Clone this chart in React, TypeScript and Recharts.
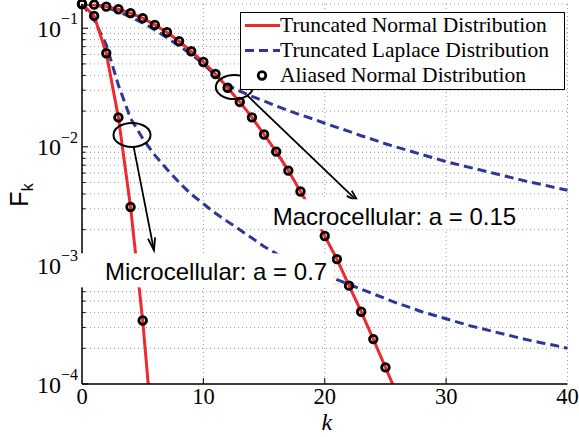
import React from 'react';
import {
  ComposedChart,
  Line,
  Scatter,
  XAxis,
  YAxis,
  CartesianGrid,
  ReferenceLine,
  ReferenceDot,
  Legend,
} from 'recharts';

// ---------- data ----------
const kValues = [
  0, 1, 2, 3, 4, 5, 6, 7, 8, 9, 10, 11, 12, 13, 14, 15, 16, 17, 18, 19, 20,
  21, 22, 23, 24, 25, 26, 27, 28, 29, 30, 31, 32, 33, 34, 35, 36, 37, 38, 39, 40,
];

// Macrocellular a = 0.15, truncated normal (k = 0..26)
const macroNormal = [
  0.160, 0.158, 0.152, 0.1445, 0.134, 0.1215, 0.1066, 0.0925, 0.0776, 0.0639,
  0.0519, 0.0411, 0.0315, 0.0239, 0.0177, 0.0127, 0.0091, 0.0063, 0.0042, 0.0028,
  0.00177, 0.00113, 0.000675, 0.000407, 0.000239, 0.000138, 0.00008,
];
// Microcellular a = 0.7, truncated normal (k = 0..6)
const microNormal = [0.160, 0.127, 0.0615, 0.0177, 0.00311, 0.000343, 0.000023];

// Truncated Laplace (k = 0..40)
const macroLaplace = [
  0.160, 0.158, 0.150, 0.138, 0.124, 0.111, 0.0966, 0.0832, 0.0708, 0.0603,
  0.0501, 0.0398, 0.0331, 0.0295, 0.0266, 0.0243, 0.0221, 0.0202, 0.0186, 0.0172,
  0.0158, 0.0146, 0.0135, 0.0124, 0.0115, 0.0106, 0.00989, 0.00923, 0.00861, 0.00804,
  0.0075, 0.00708, 0.00668, 0.00631, 0.00596, 0.00562, 0.00531, 0.00501, 0.00479, 0.00452,
  0.00431,
];
const microLaplace = [
  0.160, 0.1175, 0.0724, 0.0331, 0.01738, 0.01175, 0.00851, 0.00646, 0.00501, 0.00398,
  0.00331, 0.00275, 0.00234, 0.002, 0.0017, 0.001445, 0.001259, 0.001122, 0.001, 0.000912,
  0.000832, 0.000759, 0.000692, 0.000631, 0.000575, 0.000525, 0.000479, 0.000442, 0.000407, 0.00038,
  0.000355, 0.000331, 0.000309, 0.000292, 0.000275, 0.00026, 0.000245, 0.000232, 0.000221, 0.000211,
  0.0002,
];

// Aliased normal distribution (markers)
const macroAliasedK = [0, 1, 2, 3, 4, 5, 6, 7, 8, 9, 10, 11, 12, 13, 14, 15, 16, 17, 18, 19, 20, 21, 22, 23, 24, 25];
const macroAliased = [
  0.160, 0.158, 0.152, 0.1445, 0.134, 0.1215, 0.1066, 0.0925, 0.0776, 0.0639,
  0.0519, 0.0411, 0.0315, 0.0239, 0.0177, 0.0127, 0.0091, 0.0063, 0.0042, 0.0028,
  0.00177, 0.00113, 0.000675, 0.000407, 0.000239, 0.000138,
];
const microAliasedK = [0, 1, 2, 3, 4, 5];
const microAliased = [0.160, 0.127, 0.0615, 0.0177, 0.00311, 0.000343];

// Axis ticks
const xTicks = [0, 10, 20, 30, 40];
const topTicks = [10, 20, 30];
const yTicks = [
  0.0001, 0.0002, 0.0003, 0.0004, 0.0005, 0.0006, 0.0007, 0.0008, 0.0009,
  0.001, 0.002, 0.003, 0.004, 0.005, 0.006, 0.007, 0.008, 0.009,
  0.01, 0.02, 0.03, 0.04, 0.05, 0.06, 0.07, 0.08, 0.09,
  0.1,
];
const yDomain = [0.0001, 0.16];

// Legend labels
const legendLabels = [
  'Truncated Normal Distribution',
  'Truncated Laplace Distribution',
  'Aliased Normal Distribution',
];

// Annotations (data coordinates)
const microEllipse = { k: 4.12, v: 0.0126 };
const macroEllipse = { k: 12.55, v: 0.0319 };
const microArrow = [{ x: 4.26, y: 0.00994 }, { x: 5.93, y: 0.00134 }];
const macroArrow = [{ x: 13.57, y: 0.0274 }, { x: 22.76, y: 0.00343 }];
const microText = { k: 1.9, v: 0.000748, label: 'Microcellular: a = 0.7' };
const macroText = { k: 15.71, v: 0.00218, label: 'Macrocellular: a = 0.15' };

// ---------- table ----------
const rows = kValues.map((k, i) => ({
  k,
  macroNormal: i < macroNormal.length ? macroNormal[i] : null,
  microNormal: i < microNormal.length ? microNormal[i] : null,
  macroLaplace: macroLaplace[i],
  microLaplace: microLaplace[i],
}));
const macroAliasedData = macroAliasedK.map((k, i) => ({ k, v: macroAliased[i] }));
const microAliasedData = microAliasedK.map((k, i) => ({ k, v: microAliased[i] }));

// ---------- styles ----------
const RED = '#ee2a2e';
const BLUE = '#2e3796';
const GRID = '#9a9a9a';
const SERIF = '"Liberation Serif", "Times New Roman", serif';
const SANS = '"Liberation Sans", Arial, sans-serif';

const isDecade = (v: number) => {
  const l = Math.log10(v);
  return Math.abs(l - Math.round(l)) < 1e-6;
};

const LeftTick = (props: any) => {
  const { x, y, payload } = props;
  const v = payload.value;
  const major = isDecade(v);
  const e = Math.round(Math.log10(v));
  return (
    <g>
      <line x1={x} y1={y} x2={x + (major ? 6 : 3.5)} y2={y} stroke="#000" strokeWidth={1} />
      {major && (
        <text x={x - 4} y={y + 8.5} textAnchor="end" fontFamily={SERIF} fontSize={24} fill="#000">
          10
          <tspan dy={-12.5} fontSize={16}>{`\u2212${-e}`}</tspan>
        </text>
      )}
    </g>
  );
};

const RightTick = (props: any) => {
  const { x, y, payload } = props;
  const major = isDecade(payload.value);
  return <line x1={x} y1={y} x2={x - (major ? 6 : 3.5)} y2={y} stroke="#000" strokeWidth={1} />;
};

const BottomTick = (props: any) => {
  const { x, y, payload } = props;
  const v = payload.value;
  return (
    <g>
      {v > 0 && v < 40 && <line x1={x} y1={y} x2={x} y2={y - 6} stroke="#000" strokeWidth={1} />}
      <text x={x} y={y + 20} textAnchor="middle" fontFamily={SERIF} fontSize={22.5} fill="#000">
        {v}
      </text>
    </g>
  );
};

const TopTick = (props: any) => {
  const { x, y } = props;
  return <line x1={x} y1={y} x2={x} y2={y + 6} stroke="#000" strokeWidth={1} />;
};

const MarkerShape = (props: any) => {
  const { cx, cy } = props;
  if (cx == null || cy == null) return null;
  return <circle cx={cx} cy={cy} r={3.8} fill="none" stroke="#000" strokeWidth={2.8} />;
};

const ellipseShape = (props: any) => (
  <ellipse cx={props.cx} cy={props.cy} rx={18.5} ry={12} fill="none" stroke="#000" strokeWidth={2} />
);

const arrowShape = (props: any) => {
  const { x1, y1, x2, y2 } = props;
  if ([x1, y1, x2, y2].some((t) => t == null || Number.isNaN(t))) return null;
  const ang = Math.atan2(y2 - y1, x2 - x1);
  const len = 13;
  const half = 0.28;
  const ax = x2 - len * Math.cos(ang - half);
  const ay = y2 - len * Math.sin(ang - half);
  const bx = x2 - len * Math.cos(ang + half);
  const by = y2 - len * Math.sin(ang + half);
  return (
    <g>
      <line x1={x1} y1={y1} x2={x2} y2={y2} stroke="#000" strokeWidth={1.8} />
      <path d={`M${ax},${ay} L${x2},${y2} L${bx},${by}`} fill="none" stroke="#000" strokeWidth={1.8} />
    </g>
  );
};

const textShape = (label: string, box: { dx: number; dy: number; w: number; h: number }) => (props: any) => (
  <g>
    <rect x={props.cx + box.dx} y={props.cy + box.dy} width={box.w} height={box.h} fill="#fff" />
    <text x={props.cx} y={props.cy} fontFamily={SANS} fontSize={24} fill="#000">
      {label}
    </text>
  </g>
);

const LegendBox = () => (
  <div
    style={{
      width: 325,
      height: 78,
      boxSizing: 'border-box',
      border: '1px solid #000',
      background: '#fff',
      fontFamily: SERIF,
      fontSize: 21.5,
      color: '#000',
      paddingTop: 0,
    }}
  >
    {legendLabels.map((label, i) => (
      <div key={label} style={{ display: 'flex', alignItems: 'center', height: 25, whiteSpace: 'nowrap' }}>
        <svg width={39} height={25} style={{ flex: 'none' }}>
          {i === 0 && <line x1={4} y1={12.5} x2={39} y2={12.5} stroke={RED} strokeWidth={3} />}
          {i === 1 && (
            <line x1={4} y1={12.5} x2={39} y2={12.5} stroke={BLUE} strokeWidth={3} strokeDasharray="9 5" />
          )}
          {i === 2 && <circle cx={21} cy={12.5} r={3.8} fill="#fff" stroke="#000" strokeWidth={2.8} />}
        </svg>
        <span style={{ lineHeight: '25px' }}>{label}</span>
      </div>
    ))}
  </div>
);

const YLabel = (props: any) => {
  const vb = props.viewBox || { x: 0, y: 4, width: 82, height: 380 };
  const x = vb.x + 28;
  const y = vb.y + vb.height / 2 + 1;
  return (
    <text
      x={x}
      y={y}
      transform={`rotate(-90 ${x} ${y})`}
      textAnchor="middle"
      fontFamily={SANS}
      fontSize={25}
      fill="#000"
    >
      F<tspan dy={5} fontSize={16}>k</tspan>
    </text>
  );
};

const XLabel = (props: any) => {
  const vb = props.viewBox || { x: 82, y: 384, width: 485.5, height: 53 };
  return (
    <text
      x={vb.x + vb.width / 2 + 2}
      y={vb.y + 46}
      textAnchor="middle"
      fontFamily={SERIF}
      fontStyle="italic"
      fontSize={24}
      fill="#000"
    >
      k
    </text>
  );
};

export default function App() {
  return (
    <div style={{ position: 'absolute', left: 0, top: 0, width: 579, height: 437, background: '#fff' }}>
      <ComposedChart
        width={579}
        height={437}
        data={rows}
        margin={{ top: 4, right: 11.5, bottom: 0, left: 0 }}
      >
        <CartesianGrid stroke={GRID} strokeDasharray="1 3" strokeWidth={1} />
        <XAxis
          dataKey="k"
          type="number"
          domain={[0, 40]}
          ticks={xTicks}
          interval={0}
          height={53}
          tickSize={0}
          tickMargin={0}
          tickLine={false}
          axisLine={{ stroke: '#000', strokeWidth: 1.5 }}
          tick={<BottomTick />}
          label={{ content: XLabel }}
        />
        <XAxis
          xAxisId="top"
          orientation="top"
          type="number"
          domain={[0, 40]}
          ticks={topTicks}
          interval={0}
          height={0}
          tickSize={0}
          tickMargin={0}
          tickLine={false}
          axisLine={{ stroke: '#000', strokeWidth: 1.5 }}
          tick={<TopTick />}
        />
        <YAxis
          scale="log"
          type="number"
          domain={yDomain}
          allowDataOverflow
          ticks={yTicks}
          interval={0}
          width={82}
          tickSize={0}
          tickMargin={0}
          tickLine={false}
          axisLine={{ stroke: '#000', strokeWidth: 1.5 }}
          tick={<LeftTick />}
          label={{ content: YLabel }}
        />
        <YAxis
          yAxisId="right"
          orientation="right"
          scale="log"
          type="number"
          domain={yDomain}
          ticks={yTicks}
          interval={0}
          width={0}
          tickSize={0}
          tickMargin={0}
          tickLine={false}
          axisLine={{ stroke: '#000', strokeWidth: 1.5 }}
          tick={<RightTick />}
        />
        <Line
          dataKey="macroLaplace"
          stroke={BLUE}
          strokeWidth={3}
          strokeDasharray="9 5"
          dot={false}
          isAnimationActive={false}
        />
        <Line
          dataKey="microLaplace"
          stroke={BLUE}
          strokeWidth={3}
          strokeDasharray="9 5"
          dot={false}
          isAnimationActive={false}
        />
        <Line dataKey="macroNormal" stroke={RED} strokeWidth={3} dot={false} isAnimationActive={false} />
        <Line dataKey="microNormal" stroke={RED} strokeWidth={3} dot={false} isAnimationActive={false} />
        <Scatter
          data={macroAliasedData}
          dataKey="v"
          yAxisId="right"
          shape={MarkerShape}
          isAnimationActive={false}
        />
        <Scatter
          data={microAliasedData}
          dataKey="v"
          yAxisId="right"
          shape={MarkerShape}
          isAnimationActive={false}
        />
        <ReferenceDot x={microEllipse.k} y={microEllipse.v} shape={ellipseShape} zIndex={2500} />
        <ReferenceDot x={macroEllipse.k} y={macroEllipse.v} shape={ellipseShape} zIndex={2500} />
        <ReferenceLine segment={microArrow} shape={arrowShape} zIndex={2500} />
        <ReferenceLine segment={macroArrow} shape={arrowShape} zIndex={2500} />
        <ReferenceDot
          x={microText.k}
          y={microText.v}
          shape={textShape(microText.label, { dx: -25, dy: -27, w: 252, h: 34 })}
          zIndex={2600}
        />
        <ReferenceDot
          x={macroText.k}
          y={macroText.v}
          shape={textShape(macroText.label, { dx: -5, dy: -26, w: 250, h: 30 })}
          zIndex={2600}
        />
        <Legend
          layout="horizontal"
          verticalAlign="middle"
          align="center"
          wrapperStyle={{ left: 240, top: 12, width: 325, height: 78 }}
          content={() => <LegendBox />}
        />
      </ComposedChart>
    </div>
  );
}
